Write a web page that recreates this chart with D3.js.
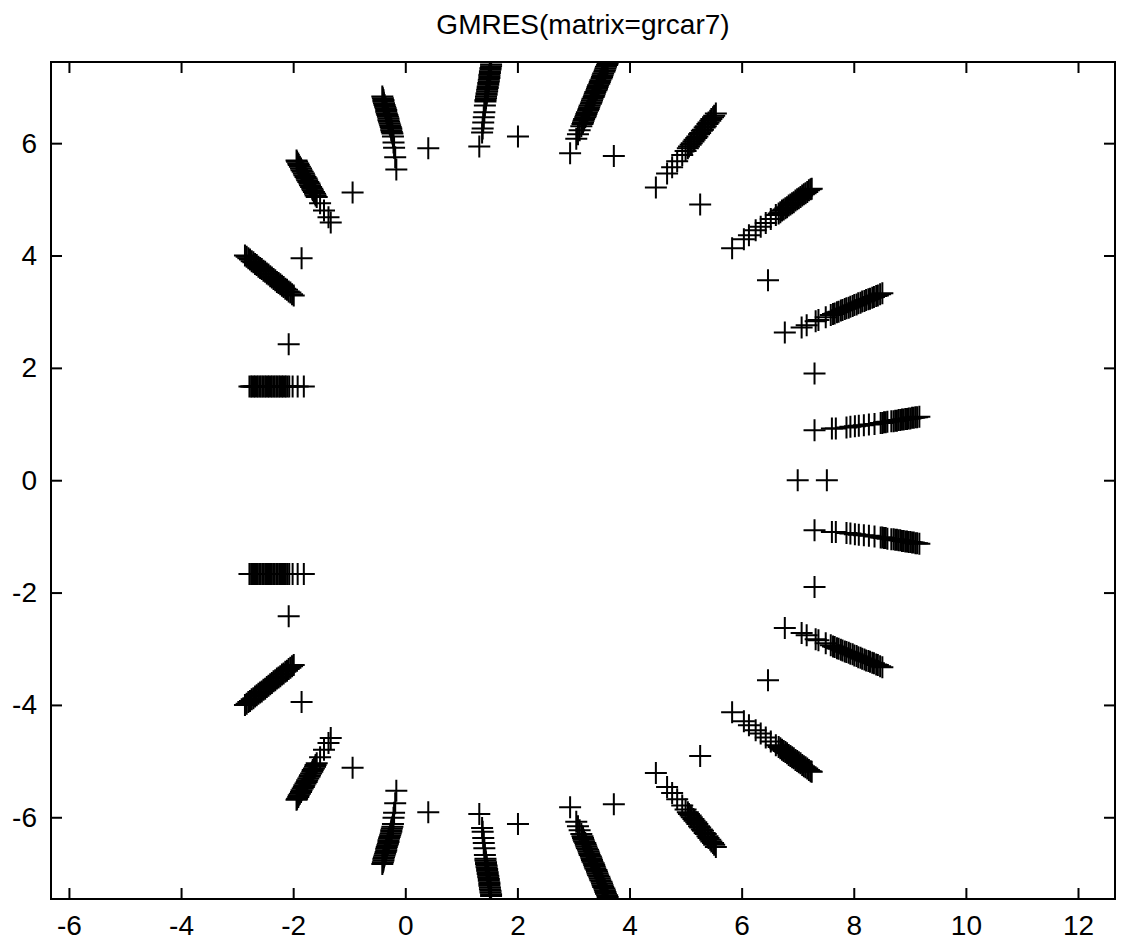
<!DOCTYPE html>
<html>
<head>
<meta charset="utf-8">
<script src="https://cdn.jsdelivr.net/npm/d3@7"></script>
<style>
  body { margin: 0; background: #fff; }
  text { font-family: "Liberation Sans", Arial, sans-serif; fill: #000; }
</style>
</head>
<body>
<div id="chart"></div>
<script>
// Ritz values, upper half plane
let rayA = [[7.30,0.89],[7.61,0.92],[7.68,0.92],[7.87,0.94],[7.94,0.95],[8.02,0.96],[8.09,0.97],[8.18,0.98],[8.27,0.99],[8.37,1.00],[8.48,1.02],[8.51,1.02],[8.54,1.03],[8.57,1.03],[8.60,1.04],[8.67,1.05],[8.71,1.05],[8.74,1.06],[8.77,1.06],[8.80,1.07],[8.83,1.07],[8.86,1.08],[8.89,1.08],[8.92,1.09],[8.95,1.09],[8.98,1.10],[9.01,1.10],[9.04,1.11],[9.07,1.11],[9.10,1.12],[9.13,1.12],[9.17,1.13]];
let rayB = [[6.77,2.63],[7.07,2.72],[7.16,2.76],[7.32,2.83],[7.37,2.85],[7.50,2.90],[7.59,2.94],[7.63,2.96],[7.66,2.97],[7.70,2.99],[7.73,3.00],[7.77,3.02],[7.80,3.03],[7.84,3.05],[7.87,3.06],[7.91,3.07],[7.94,3.09],[7.98,3.10],[8.01,3.12],[8.05,3.13],[8.08,3.15],[8.12,3.16],[8.15,3.18],[8.19,3.19],[8.22,3.21],[8.26,3.22],[8.29,3.23],[8.33,3.25],[8.36,3.26],[8.40,3.28],[8.43,3.29],[8.47,3.31],[8.51,3.33]];
let rayC = [[5.83,4.13],[6.04,4.29],[6.13,4.36],[6.25,4.45],[6.34,4.51],[6.43,4.58],[6.52,4.65],[6.61,4.72],[6.66,4.75],[6.69,4.77],[6.72,4.80],[6.75,4.82],[6.78,4.84],[6.81,4.86],[6.84,4.89],[6.87,4.91],[6.90,4.93],[6.93,4.95],[6.96,4.98],[6.99,5.00],[7.02,5.02],[7.05,5.04],[7.08,5.07],[7.11,5.09],[7.14,5.11],[7.17,5.13],[7.20,5.16],[7.23,5.18],[7.25,5.19]];
let rayD = [[4.47,5.21],[4.67,5.46],[4.76,5.57],[4.85,5.68],[4.94,5.79],[5.00,5.86],[5.04,5.91],[5.06,5.94],[5.09,5.97],[5.11,6.00],[5.14,6.03],[5.16,6.06],[5.19,6.09],[5.21,6.12],[5.24,6.16],[5.26,6.18],[5.29,6.22],[5.31,6.24],[5.34,6.28],[5.36,6.30],[5.39,6.34],[5.41,6.37],[5.44,6.40],[5.46,6.43],[5.49,6.46],[5.51,6.49],[5.54,6.53]];
let rayE = [[2.94,5.82],[3.05,6.08],[3.08,6.16],[3.11,6.23],[3.14,6.30],[3.16,6.34],[3.17,6.37],[3.18,6.40],[3.19,6.43],[3.21,6.46],[3.22,6.49],[3.23,6.52],[3.24,6.55],[3.26,6.58],[3.27,6.61],[3.28,6.64],[3.29,6.67],[3.31,6.70],[3.32,6.73],[3.33,6.76],[3.34,6.79],[3.36,6.82],[3.37,6.85],[3.38,6.88],[3.39,6.91],[3.41,6.94],[3.42,6.97],[3.43,7.00],[3.44,7.03],[3.46,7.06],[3.47,7.09],[3.48,7.12],[3.50,7.15],[3.51,7.18],[3.52,7.21],[3.53,7.24],[3.55,7.27],[3.56,7.30],[3.57,7.33],[3.58,7.36],[3.60,7.39],[3.61,7.42]];
let rayF = [[1.32,5.94],[1.37,6.19],[1.38,6.26],[1.39,6.37],[1.40,6.46],[1.41,6.55],[1.42,6.67],[1.43,6.74],[1.43,6.77],[1.44,6.80],[1.44,6.83],[1.45,6.86],[1.45,6.89],[1.46,6.92],[1.46,6.95],[1.47,6.98],[1.47,7.01],[1.48,7.04],[1.48,7.07],[1.49,7.10],[1.49,7.13],[1.50,7.16],[1.50,7.19],[1.50,7.22],[1.51,7.25],[1.51,7.28],[1.52,7.31],[1.52,7.34],[1.53,7.37],[1.53,7.40]];
let rayG = [[-0.16,5.53],[-0.18,5.75],[-0.20,5.92],[-0.21,6.01],[-0.22,6.12],[-0.23,6.17],[-0.24,6.20],[-0.25,6.23],[-0.25,6.26],[-0.26,6.29],[-0.27,6.32],[-0.28,6.35],[-0.29,6.38],[-0.30,6.41],[-0.30,6.44],[-0.31,6.47],[-0.32,6.50],[-0.33,6.53],[-0.34,6.56],[-0.34,6.59],[-0.35,6.62],[-0.36,6.65],[-0.37,6.68],[-0.38,6.71],[-0.39,6.74],[-0.39,6.77],[-0.40,6.80],[-0.41,6.83]];
let rayH = [[-1.33,4.59],[-1.37,4.68],[-1.45,4.80],[-1.52,4.93],[-1.58,5.04],[-1.60,5.07],[-1.61,5.10],[-1.63,5.13],[-1.65,5.16],[-1.66,5.19],[-1.68,5.22],[-1.70,5.25],[-1.71,5.28],[-1.73,5.31],[-1.75,5.34],[-1.76,5.37],[-1.78,5.40],[-1.80,5.43],[-1.81,5.46],[-1.83,5.49],[-1.85,5.52],[-1.86,5.55],[-1.88,5.58],[-1.90,5.61],[-1.91,5.64],[-1.93,5.67],[-1.94,5.69]];
let rayI = [[-1.99,3.29],[-2.02,3.31],[-2.05,3.34],[-2.08,3.36],[-2.11,3.39],[-2.14,3.41],[-2.17,3.44],[-2.20,3.46],[-2.23,3.49],[-2.26,3.51],[-2.29,3.53],[-2.32,3.56],[-2.35,3.58],[-2.38,3.61],[-2.41,3.63],[-2.44,3.66],[-2.47,3.68],[-2.50,3.71],[-2.53,3.73],[-2.56,3.76],[-2.59,3.78],[-2.62,3.80],[-2.65,3.83],[-2.68,3.85],[-2.71,3.88],[-2.74,3.90],[-2.77,3.93],[-2.80,3.95],[-2.83,3.98],[-2.86,4.00]];
let rayJ = [[-2.78,1.67],[-2.75,1.67],[-2.73,1.67],[-2.70,1.67],[-2.68,1.67],[-2.65,1.67],[-2.63,1.67],[-2.60,1.67],[-2.58,1.67],[-2.55,1.67],[-2.53,1.67],[-2.50,1.67],[-2.48,1.67],[-2.45,1.67],[-2.43,1.67],[-2.40,1.67],[-2.38,1.67],[-2.35,1.67],[-2.33,1.67],[-2.30,1.67],[-2.28,1.67],[-2.25,1.67],[-2.23,1.67],[-2.20,1.67],[-2.18,1.67],[-2.15,1.67],[-2.13,1.67],[-2.10,1.67],[-2.07,1.67],[-2.01,1.67],[-1.92,1.67],[-1.81,1.67]];
let singlesUp = [[7.30,1.90],[6.47,3.56],[5.26,4.91],[3.72,5.77],[2.01,6.12],[0.41,5.91],[-0.94,5.12],[-1.85,3.95],[-2.08,2.42]];

// real axis
let singlesReal = [[7.00,0.00],[7.52,0.00]];

// lower half plane (the conjugates)
let rayA2 = [[7.30,-0.89],[7.61,-0.92],[7.68,-0.92],[7.87,-0.94],[7.94,-0.95],[8.02,-0.96],[8.09,-0.97],[8.18,-0.98],[8.27,-0.99],[8.37,-1.00],[8.48,-1.02],[8.51,-1.02],[8.54,-1.03],[8.57,-1.03],[8.60,-1.04],[8.67,-1.05],[8.71,-1.05],[8.74,-1.06],[8.77,-1.06],[8.80,-1.07],[8.83,-1.07],[8.86,-1.08],[8.89,-1.08],[8.92,-1.09],[8.95,-1.09],[8.98,-1.10],[9.01,-1.10],[9.04,-1.11],[9.07,-1.11],[9.10,-1.12],[9.13,-1.12],[9.17,-1.13]];
let rayB2 = [[6.77,-2.63],[7.07,-2.72],[7.16,-2.76],[7.32,-2.83],[7.37,-2.85],[7.50,-2.90],[7.59,-2.94],[7.63,-2.96],[7.66,-2.97],[7.70,-2.99],[7.73,-3.00],[7.77,-3.02],[7.80,-3.03],[7.84,-3.05],[7.87,-3.06],[7.91,-3.07],[7.94,-3.09],[7.98,-3.10],[8.01,-3.12],[8.05,-3.13],[8.08,-3.15],[8.12,-3.16],[8.15,-3.18],[8.19,-3.19],[8.22,-3.21],[8.26,-3.22],[8.29,-3.23],[8.33,-3.25],[8.36,-3.26],[8.40,-3.28],[8.43,-3.29],[8.47,-3.31],[8.51,-3.33]];
let rayC2 = [[5.83,-4.13],[6.04,-4.29],[6.13,-4.36],[6.25,-4.45],[6.34,-4.51],[6.43,-4.58],[6.52,-4.65],[6.61,-4.72],[6.66,-4.75],[6.69,-4.77],[6.72,-4.80],[6.75,-4.82],[6.78,-4.84],[6.81,-4.86],[6.84,-4.89],[6.87,-4.91],[6.90,-4.93],[6.93,-4.95],[6.96,-4.98],[6.99,-5.00],[7.02,-5.02],[7.05,-5.04],[7.08,-5.07],[7.11,-5.09],[7.14,-5.11],[7.17,-5.13],[7.20,-5.16],[7.23,-5.18],[7.25,-5.19]];
let rayD2 = [[4.47,-5.21],[4.67,-5.46],[4.76,-5.57],[4.85,-5.68],[4.94,-5.79],[5.00,-5.86],[5.04,-5.91],[5.06,-5.94],[5.09,-5.97],[5.11,-6.00],[5.14,-6.03],[5.16,-6.06],[5.19,-6.09],[5.21,-6.12],[5.24,-6.16],[5.26,-6.18],[5.29,-6.22],[5.31,-6.24],[5.34,-6.28],[5.36,-6.30],[5.39,-6.34],[5.41,-6.37],[5.44,-6.40],[5.46,-6.43],[5.49,-6.46],[5.51,-6.49],[5.54,-6.53]];
let rayE2 = [[2.94,-5.82],[3.05,-6.08],[3.08,-6.16],[3.11,-6.23],[3.14,-6.30],[3.16,-6.34],[3.17,-6.37],[3.18,-6.40],[3.19,-6.43],[3.21,-6.46],[3.22,-6.49],[3.23,-6.52],[3.24,-6.55],[3.26,-6.58],[3.27,-6.61],[3.28,-6.64],[3.29,-6.67],[3.31,-6.70],[3.32,-6.73],[3.33,-6.76],[3.34,-6.79],[3.36,-6.82],[3.37,-6.85],[3.38,-6.88],[3.39,-6.91],[3.41,-6.94],[3.42,-6.97],[3.43,-7.00],[3.44,-7.03],[3.46,-7.06],[3.47,-7.09],[3.48,-7.12],[3.50,-7.15],[3.51,-7.18],[3.52,-7.21],[3.53,-7.24],[3.55,-7.27],[3.56,-7.30],[3.57,-7.33],[3.58,-7.36],[3.60,-7.39],[3.61,-7.42]];
let rayF2 = [[1.32,-5.94],[1.37,-6.19],[1.38,-6.26],[1.39,-6.37],[1.40,-6.46],[1.41,-6.55],[1.42,-6.67],[1.43,-6.74],[1.43,-6.77],[1.44,-6.80],[1.44,-6.83],[1.45,-6.86],[1.45,-6.89],[1.46,-6.92],[1.46,-6.95],[1.47,-6.98],[1.47,-7.01],[1.48,-7.04],[1.48,-7.07],[1.49,-7.10],[1.49,-7.13],[1.50,-7.16],[1.50,-7.19],[1.50,-7.22],[1.51,-7.25],[1.51,-7.28],[1.52,-7.31],[1.52,-7.34],[1.53,-7.37],[1.53,-7.40]];
let rayG2 = [[-0.16,-5.53],[-0.18,-5.75],[-0.20,-5.92],[-0.21,-6.01],[-0.22,-6.12],[-0.23,-6.17],[-0.24,-6.20],[-0.25,-6.23],[-0.25,-6.26],[-0.26,-6.29],[-0.27,-6.32],[-0.28,-6.35],[-0.29,-6.38],[-0.30,-6.41],[-0.30,-6.44],[-0.31,-6.47],[-0.32,-6.50],[-0.33,-6.53],[-0.34,-6.56],[-0.34,-6.59],[-0.35,-6.62],[-0.36,-6.65],[-0.37,-6.68],[-0.38,-6.71],[-0.39,-6.74],[-0.39,-6.77],[-0.40,-6.80],[-0.41,-6.83]];
let rayH2 = [[-1.33,-4.59],[-1.37,-4.68],[-1.45,-4.80],[-1.52,-4.93],[-1.58,-5.04],[-1.60,-5.07],[-1.61,-5.10],[-1.63,-5.13],[-1.65,-5.16],[-1.66,-5.19],[-1.68,-5.22],[-1.70,-5.25],[-1.71,-5.28],[-1.73,-5.31],[-1.75,-5.34],[-1.76,-5.37],[-1.78,-5.40],[-1.80,-5.43],[-1.81,-5.46],[-1.83,-5.49],[-1.85,-5.52],[-1.86,-5.55],[-1.88,-5.58],[-1.90,-5.61],[-1.91,-5.64],[-1.93,-5.67],[-1.94,-5.69]];
let rayI2 = [[-1.99,-3.29],[-2.02,-3.31],[-2.05,-3.34],[-2.08,-3.36],[-2.11,-3.39],[-2.14,-3.41],[-2.17,-3.44],[-2.20,-3.46],[-2.23,-3.49],[-2.26,-3.51],[-2.29,-3.53],[-2.32,-3.56],[-2.35,-3.58],[-2.38,-3.61],[-2.41,-3.63],[-2.44,-3.66],[-2.47,-3.68],[-2.50,-3.71],[-2.53,-3.73],[-2.56,-3.76],[-2.59,-3.78],[-2.62,-3.80],[-2.65,-3.83],[-2.68,-3.85],[-2.71,-3.88],[-2.74,-3.90],[-2.77,-3.93],[-2.80,-3.95],[-2.83,-3.98],[-2.86,-4.00]];
let rayJ2 = [[-2.78,-1.67],[-2.75,-1.67],[-2.73,-1.67],[-2.70,-1.67],[-2.68,-1.67],[-2.65,-1.67],[-2.63,-1.67],[-2.60,-1.67],[-2.58,-1.67],[-2.55,-1.67],[-2.53,-1.67],[-2.50,-1.67],[-2.48,-1.67],[-2.45,-1.67],[-2.43,-1.67],[-2.40,-1.67],[-2.38,-1.67],[-2.35,-1.67],[-2.33,-1.67],[-2.30,-1.67],[-2.28,-1.67],[-2.25,-1.67],[-2.23,-1.67],[-2.20,-1.67],[-2.18,-1.67],[-2.15,-1.67],[-2.13,-1.67],[-2.10,-1.67],[-2.07,-1.67],[-2.01,-1.67],[-1.92,-1.67],[-1.81,-1.67]];
let singlesDown = [[7.30,-1.90],[6.47,-3.56],[5.26,-4.91],[3.72,-5.77],[2.01,-6.12],[0.41,-5.91],[-0.94,-5.12],[-1.85,-3.95],[-2.08,-2.42]];

let xTicks = [-6, -4, -2, 0, 2, 4, 6, 8, 10, 12];
let yTicks = [-6, -4, -2, 0, 2, 4, 6];

let titleText = "GMRES(matrix=grcar7)";

//Creating the main SVG.
let W = 1127, H = 951;
let margin = {left: 51, right: 12, top: 62, bottom: 52};
let width = W - margin.left - margin.right;
let height = H - margin.top - margin.bottom;

let svg = d3.select("#chart").append("svg")
    .attr("width", W)
    .attr("height", H);

let x = d3.scaleLinear().domain([-6.32, 12.66]).range([0, width]);
let y = d3.scaleLinear().domain([-7.455, 7.445]).range([height, 0]);

let g = svg.append("g")
    .attr("transform", "translate(" + margin.left + "," + margin.top + ")");

g.append("clipPath").attr("id", "plotClip")
    .append("rect").attr("x", 0).attr("y", 0).attr("width", width).attr("height", height);

//Axes (ticks point inward like MATLAB, on all four sides).
let tickLen = 11;
let plain = d => String(d);
let axB = g.append("g").attr("transform", "translate(0," + height + ")")
    .call(d3.axisBottom(x).tickValues(xTicks).tickSizeInner(-tickLen).tickSizeOuter(0).tickPadding(16).tickFormat(plain));
let axT = g.append("g")
    .call(d3.axisTop(x).tickValues(xTicks).tickSizeInner(-tickLen).tickSizeOuter(0).tickFormat(""));
let axL = g.append("g")
    .call(d3.axisLeft(y).tickValues(yTicks).tickSizeInner(-tickLen).tickSizeOuter(0).tickPadding(14).tickFormat(plain));
let axR = g.append("g").attr("transform", "translate(" + width + ",0)")
    .call(d3.axisRight(y).tickValues(yTicks).tickSizeInner(-tickLen).tickSizeOuter(0).tickFormat(""));

[axB, axT, axL, axR].forEach(ax => {
    ax.select(".domain").remove();
    ax.selectAll(".tick line").attr("stroke", "#000").attr("stroke-width", 2);
    ax.selectAll(".tick text").style("font-size", "28px").attr("fill", "#000");
});

g.append("rect")
    .attr("width", width).attr("height", height)
    .attr("fill", "none").attr("stroke", "#000").attr("stroke-width", 2);

//Markers.
let groups = [rayA, rayB, rayC, rayD, rayE, rayF, rayG, rayH, rayI, rayJ, singlesUp, singlesReal,
              rayA2, rayB2, rayC2, rayD2, rayE2, rayF2, rayG2, rayH2, rayI2, rayJ2, singlesDown];
let pts = [].concat(...groups);

let marks = g.append("g").attr("clip-path", "url(#plotClip)");
marks.selectAll("path.pt").data(pts).enter().append("path")
    .attr("class", "pt")
    .attr("d", "M-11,0H11M0,-11V11")
    .attr("transform", d => "translate(" + x(d[0]) + "," + y(d[1]) + ")")
    .attr("stroke", "#000")
    .attr("stroke-width", 2)
    .attr("fill", "none");

svg.append("text")
    .attr("x", margin.left + width / 2)
    .attr("y", 34)
    .attr("text-anchor", "middle")
    .style("font-size", "28px")
    .text(titleText);
</script>
</body>
</html>
